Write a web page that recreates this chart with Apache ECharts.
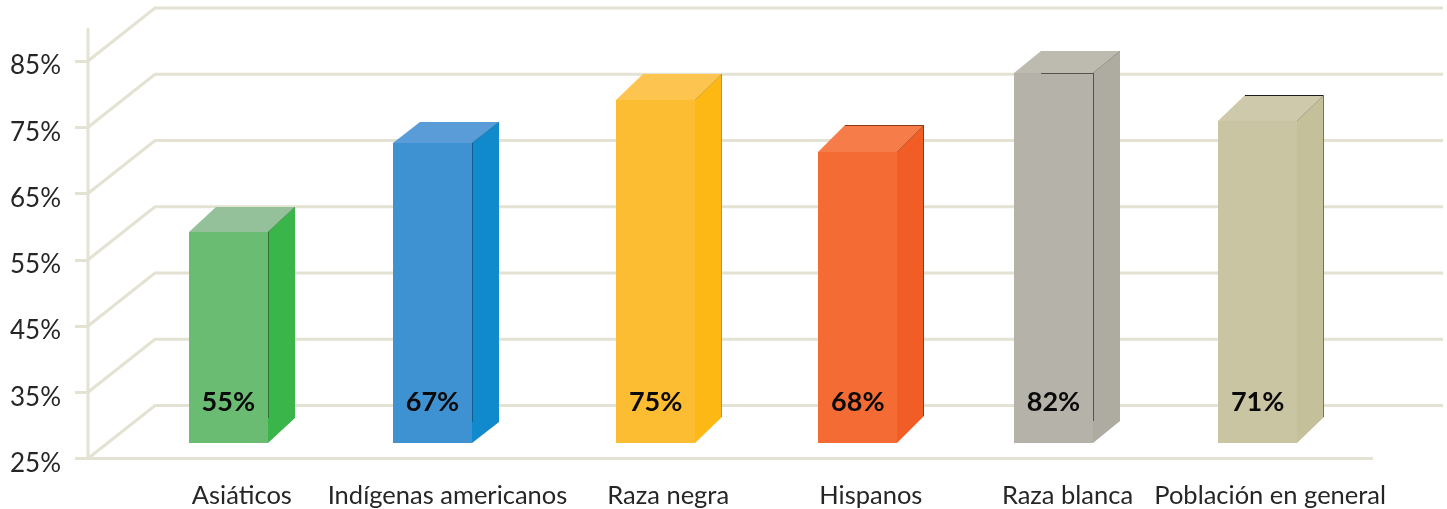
<!DOCTYPE html>
<html>
<head>
<meta charset="utf-8">
<title>Chart</title>
<script src="https://cdn.jsdelivr.net/npm/echarts@6/dist/echarts.min.js"></script>
<style>
  html, body { margin: 0; padding: 0; background: #fff; }
  #main { width: 1447px; height: 509px; }
</style>
</head>
<body>
<div id="main"></div>
<script>
const categories = ['Asiáticos', 'Indígenas americanos', 'Raza negra', 'Hispanos', 'Raza blanca', 'Población en general'];
// numbers printed on the bars
const printedValues = [55, 67, 75, 68, 82, 71];
// height of each front face (the drawing does not follow the printed number)
const barTops = [59.2, 72.6, 79.1, 71.2, 83.2, 75.9];
const barBase = 27.3;
const yTicks = [25, 35, 45, 55, 65, 75, 85];
const axisTop = 90;

// look of the bars
const frontColors = ['#69bc71', '#3f92d2', '#fdbd33', '#f46c34', '#b5b2a9', '#c9c4a1'];
const topColors = ['#94c199', '#5a9cd7', '#fec450', '#f67c4a', '#bdbab0', '#cec9aa'];
const sideColors = ['#3ab54a', '#118acd', '#fdb813', '#f25c25', '#aeaca0', '#c4c09a'];
const seamColors = ['#2d6e3a', '#0f5e8c', null, null, '#55534c', null];
const diagColors = ['#2d6e3a', '#0f5e8c', '#b98a1e', '#8a3a14', '#77756b', '#85826a'];
const backColors = [null, null, null, '#8a3a14', null, '#1c1c1c'];
const rightColors = [null, null, '#c8921a', '#8a3a14', null, '#77745a'];
const depthY = [25, 21, 26, 27, 22, 26];
const barNudge = [-13.5, -15, 2.5, -1, -11, -12.5];
const labelNudge = [0, 0, 15, 12, 3, 0];
const barWidth = 79;
const depthX = 27;

const lineColor = '#e4e2d2';
const wallDx = 67;
const wallDy = 53;
const axisOffset = 51;

let myChart = echarts.init(document.getElementById('main'));

function renderWall(params, api) {
  let cs = params.coordSys;
  let x0 = cs.x - axisOffset;
  let y = api.coord([0, api.value(0)])[1];
  return {
    type: 'polyline',
    shape: { points: [[x0, y], [x0 + wallDx, y - wallDy], [cs.x + cs.width + 70, y - wallDy]] },
    style: { fill: null, stroke: lineColor, lineWidth: 3 }
  };
}

// axis line and floor line
function renderFrame(params, api) {
  let cs = params.coordSys;
  let x0 = cs.x - axisOffset;
  let bottom = api.coord([0, yTicks[0]])[1];
  let top = api.coord([0, api.value(0)])[1];
  return {
    type: 'polyline',
    shape: { points: [[x0, top], [x0, bottom], [cs.x + cs.width, bottom]] },
    style: { fill: null, stroke: lineColor, lineWidth: 3 }
  };
}

function edge(x1, y1, x2, y2, color, width) {
  return { type: 'line', shape: { x1: x1, y1: y1, x2: x2, y2: y2 }, style: { stroke: color, lineWidth: width } };
}

function renderBar(params, api) {
  let i = api.value(0);
  let center = api.coord([i, 0])[0] + barNudge[i];
  let yTop = Math.round(api.coord([i, api.value(1)])[1]);
  let yBottom = Math.round(api.coord([i, barBase])[1]);
  let l = Math.round(center - barWidth / 2);
  let r = l + barWidth;
  let dy = depthY[i];
  let children = [
    { type: 'polygon', shape: { points: [[r, yTop], [r + depthX, yTop - dy], [r + depthX, yBottom - dy], [r, yBottom]] }, style: { fill: sideColors[i] } },
    { type: 'polygon', shape: { points: [[l, yTop], [l + depthX, yTop - dy], [r + depthX, yTop - dy], [r, yTop]] }, style: { fill: topColors[i] } },
    { type: 'rect', shape: { x: l, y: yTop, width: barWidth, height: yBottom - yTop }, style: { fill: frontColors[i] } },
    edge(r, yTop, r + depthX, yTop - dy, diagColors[i], 0.6)
  ];
  if (seamColors[i]) {
    children.push(edge(r + 0.5, yTop, r + 0.5, yBottom - dy, seamColors[i], 1));
  }
  if (i === 4) {
    // raza blanca has a dark line along part of the front top
    children.push(edge(l + depthX, yTop + 0.5, r, yTop + 0.5, seamColors[i], 1));
  }
  if (backColors[i]) {
    children.push(edge(l + depthX, yTop - dy + 0.5, r + depthX, yTop - dy + 0.5, backColors[i], 1));
  }
  if (rightColors[i]) {
    children.push(edge(r + depthX - 0.5, yTop - dy, r + depthX - 0.5, yBottom - dy, rightColors[i], 1));
  }
  children.push({
    type: 'text',
    style: {
      x: center,
      y: yBottom - 41,
      text: api.value(2) + '%',
      fill: '#0a0a0a',
      font: 'bold 27px Lato',
      align: 'center',
      verticalAlign: 'middle'
    }
  });
  return { type: 'group', children: children };
}

let labelRich = {};
categories.forEach((c, i) => {
  labelRich['n' + i] = { padding: [0, 0, 0, labelNudge[i] * 2], color: '#262626', fontSize: 25.5, fontFamily: 'Lato' };
});

let option = {
  backgroundColor: '#fff',
  animation: false,
  grid: { left: 139, right: 74, top: 61, bottom: 50.5 },
  xAxis: {
    type: 'category',
    data: categories,
    axisLine: { show: false },
    axisTick: { show: false },
    axisLabel: {
      interval: 0,
      margin: 24,
      formatter: (v) => `{n${categories.indexOf(v)}|${v}}`,
      rich: labelRich
    }
  },
  yAxis: {
    type: 'value',
    min: 25,
    max: 85,
    interval: 10,
    offset: axisOffset,
    splitLine: { show: false },
    axisLine: { show: false },
    axisTick: { show: true, length: 13, lineStyle: { color: lineColor, width: 3 } },
    axisLabel: {
      margin: 27,
      formatter: (v) => `{t|${v}%}`,
      rich: {
        t: { color: '#262626', fontSize: 26, fontFamily: 'Lato', padding: [10, 0, 0, 0] }
      }
    }
  },
  series: [
    { type: 'custom', z: 1, renderItem: renderWall, data: yTicks.map(v => [v]), encode: { y: 0 }, silent: true },
    { type: 'custom', z: 1, renderItem: renderFrame, data: [[axisTop]], encode: { y: 0 }, silent: true },
    {
      type: 'custom',
      z: 3,
      renderItem: renderBar,
      data: categories.map((c, i) => [i, barTops[i], printedValues[i]]),
      encode: { x: 0, y: 1 },
      silent: true
    }
  ]
};
myChart.setOption(option);
</script>
</body>
</html>
